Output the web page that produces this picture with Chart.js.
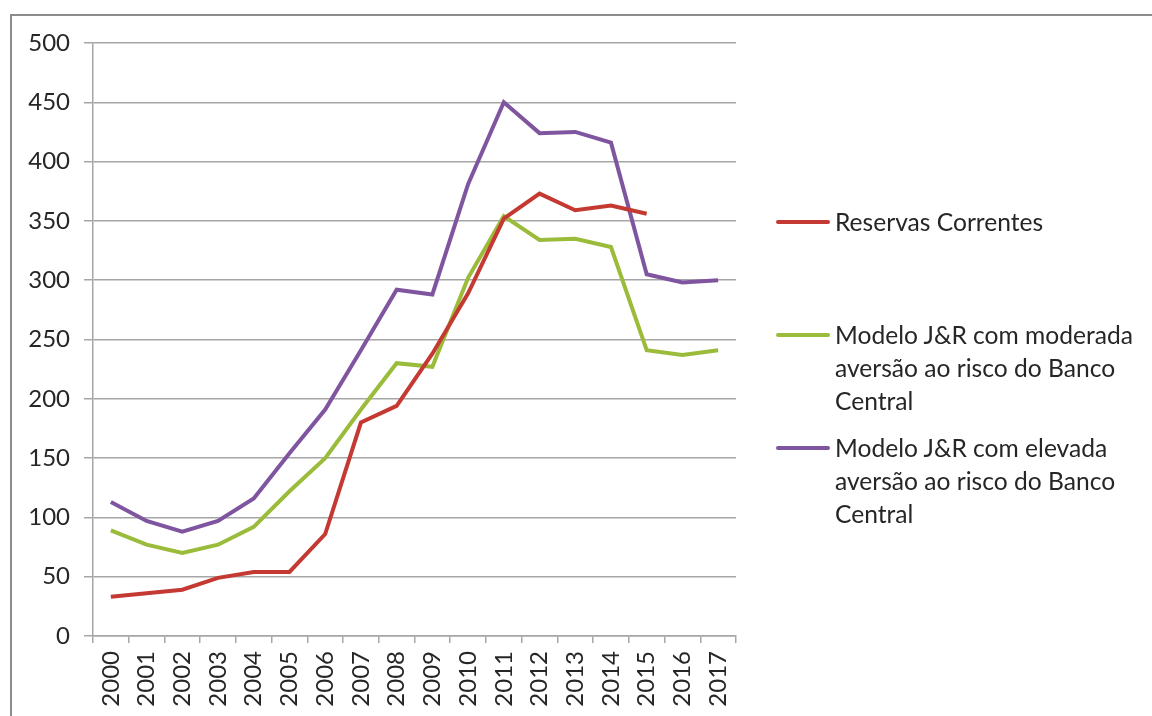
<!DOCTYPE html>
<html>
<head>
<meta charset="utf-8">
<script src="https://cdn.jsdelivr.net/npm/chart.js@4"></script>
<style>
  html, body { margin: 0; padding: 0; background: #fff; }
  #wrap { position: relative; width: 1152px; height: 716px; overflow: hidden; }
  #frame { position: absolute; left: 10px; top: 14px; width: 1200px; height: 800px;
           border-left: 2px solid #8c8c8c; border-top: 2px solid #8c8c8c; }
  #legend { position: absolute; left: 776px; top: 0; font-family: Lato, sans-serif;
            font-size: 24.6px; color: #262626; }
  .item { position: absolute; left: 0; width: 370px; }
  .swatch { position: absolute; left: 0; width: 54px; height: 4px; border-radius: 2px; }
  .txt { position: absolute; left: 59px; line-height: 33px; white-space: nowrap; }
</style>
</head>
<body>
<div id="wrap">
  <div id="frame"></div>
  <canvas id="Chart" width="1152" height="716"></canvas>
  <div id="legend"></div>
</div>
<script>
// * Categories
const years = ['2000', '2001', '2002', '2003', '2004', '2005', '2006', '2007', '2008',
               '2009', '2010', '2011', '2012', '2013', '2014', '2015', '2016', '2017']

// * Series values
const reservasCorrentes = [33, 36, 39, 49, 54, 54, 86, 180, 194, 238, 289, 352, 373, 359, 363, 356, null, null]
const moderadaAversao = [89, 77, 70, 77, 92, 122, 150, 191, 230, 227, 302, 354, 334, 335, 328, 241, 237, 241]
const elevadaAversao = [113, 97, 88, 97, 116, 154, 191, 241, 292, 288, 381, 450, 424, 425, 416, 305, 298, 300]

// * Legend text (wrapped as in the picture)
const legendLines = [
    ['Reservas Correntes'],
    ['Modelo J&R com moderada', 'aversão ao risco do Banco', 'Central'],
    ['Modelo J&R com elevada', 'aversão ao risco do Banco', 'Central'],
]
const legendY = [222, 335, 448]

const axisColor = '#a6a6a6'
const tickFont = { family: 'Lato', size: 24 }

const data = {
    labels: years,
    datasets: [{
        label: 'Reservas Correntes',
        data: reservasCorrentes,
        borderColor: '#C43A33',
    }, {
        label: 'Modelo J&R com moderada aversão ao risco do Banco Central',
        data: moderadaAversao,
        borderColor: '#9BBB3A',
    }, {
        label: 'Modelo J&R com elevada aversão ao risco do Banco Central',
        data: elevadaAversao,
        borderColor: '#7F55A0',
    }],
}
data.datasets.forEach(ds => {
    ds.borderWidth = 4
    ds.pointRadius = 0
    ds.tension = 0
    ds.fill = false
    ds.spanGaps = false
})

const config = {
    type: 'line',
    data,
    options: {
        responsive: false,
        animation: false,
        layout: { padding: { left: 0, top: 43, right: 416, bottom: 0 } },
        plugins: {
            legend: { display: false },
            tooltip: { enabled: false }
        },
        scales: {
            x: {
                offset: true,
                grid: {
                    offset: true,
                    drawOnChartArea: false,
                    drawTicks: true,
                    tickLength: 7,
                    color: axisColor,
                    lineWidth: 1.5
                },
                border: { display: true, color: axisColor, width: 1.5 },
                ticks: {
                    minRotation: 90,
                    maxRotation: 90,
                    autoSkip: false,
                    padding: 8,
                    color: '#262626',
                    font: tickFont
                },
                afterFit: s => { s.height = 80 }
            },
            y: {
                min: 0,
                max: 500,
                ticks: {
                    stepSize: 50,
                    padding: 14,
                    color: '#262626',
                    font: tickFont
                },
                grid: {
                    color: axisColor,
                    lineWidth: 1.5,
                    tickLength: 9
                },
                border: { display: true, color: axisColor, width: 1.5 },
                afterFit: s => { s.width = 93 }
            }
        }
    }
}

// * Init / Render Block
const lineChart = new Chart(document.getElementById('Chart'), config)

// * HTML legend built from the datasets
const legendBox = document.getElementById('legend')
lineChart.data.datasets.forEach((ds, i) => {
    const item = document.createElement('div')
    item.className = 'item'
    item.style.top = legendY[i] + 'px'
    const sw = document.createElement('div')
    sw.className = 'swatch'
    sw.style.background = ds.borderColor
    sw.style.top = '-2px'
    const txt = document.createElement('div')
    txt.className = 'txt'
    txt.style.top = '-17px'
    txt.innerHTML = legendLines[i].map(t => t.replace('&', '&amp;')).join('<br>')
    item.appendChild(sw)
    item.appendChild(txt)
    legendBox.appendChild(item)
})
</script>
</body>
</html>
